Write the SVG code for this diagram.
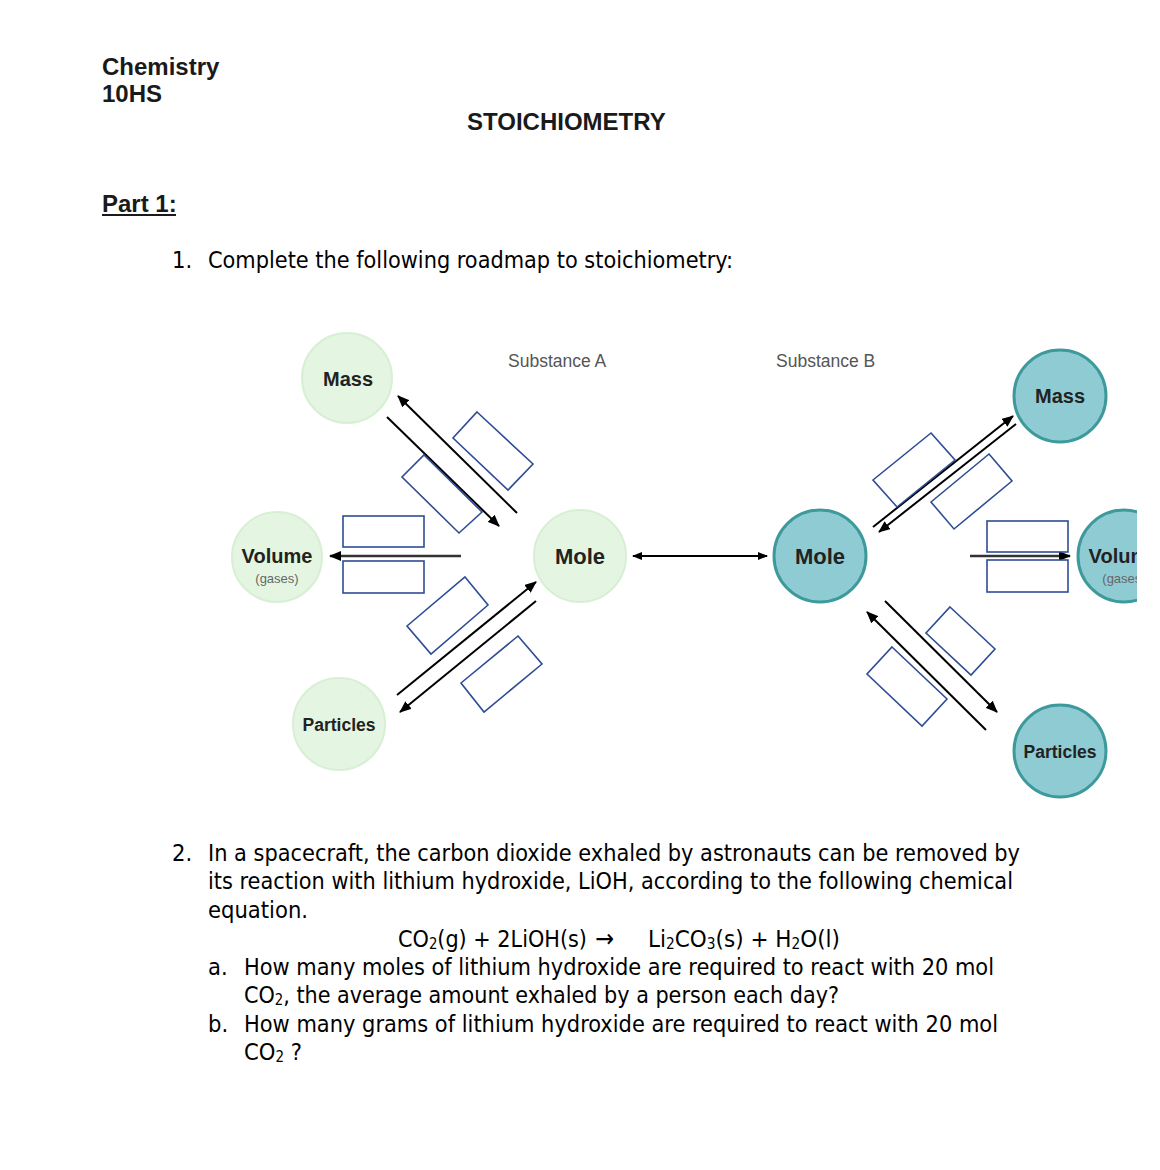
<svg xmlns="http://www.w3.org/2000/svg" width="1160" height="1170" viewBox="0 0 1160 1170">
<defs>
<style>
.hdr{font-family:"Liberation Sans",Arial,sans-serif;font-weight:bold;font-size:24px;fill:#1a1a1a}
.doc{font-family:"DejaVu Sans Condensed","DejaVu Sans",sans-serif;font-size:23.5px;fill:#000}
.s{font-size:15px}
.lbl{font-family:"Liberation Sans",Arial,sans-serif;font-weight:bold;font-size:20px;fill:#222;text-anchor:middle}
.gas{font-family:"Liberation Sans",Arial,sans-serif;font-size:13px;fill:#666;text-anchor:middle}
.subst{font-family:"Liberation Sans",Arial,sans-serif;font-size:17.5px;fill:#555}
.ga{fill:#e4f6e1;stroke:#d7f0d4;stroke-width:2}
.tb{fill:#8fcbd3;stroke:#3d9a9c;stroke-width:3}
.box{fill:#fff;stroke:#2e4d94;stroke-width:1.6}
.arr{fill:none;stroke:#000;stroke-width:2;marker-end:url(#ah)}
.arr2{fill:none;stroke:#000;stroke-width:2;marker-start:url(#ah2);marker-end:url(#ah2)}
</style>
<marker id="ah" viewBox="0 0 12 10" refX="11" refY="5" markerWidth="12" markerHeight="10" markerUnits="userSpaceOnUse" orient="auto">
<path d="M0,0 L12,5 L0,10 z" fill="#000"/>
</marker>
<marker id="ah2" viewBox="0 0 10 8" refX="9" refY="4" markerWidth="10" markerHeight="8" markerUnits="userSpaceOnUse" orient="auto-start-reverse">
<path d="M0,0 L10,4 L0,8 z" fill="#000"/>
</marker>
<clipPath id="cut"><rect x="0" y="0" width="1137" height="1170"/></clipPath>
</defs>
<rect x="0" y="0" width="1160" height="1170" fill="#fff"/>

<g id="header">
<text class="hdr" x="102" y="75">Chemistry</text>
<text class="hdr" x="102" y="102">10HS</text>
<text class="hdr" x="467" y="130">STOICHIOMETRY</text>
<text class="hdr" x="102" y="212">Part 1:</text>
<line x1="102" y1="215" x2="176" y2="215" stroke="#1a1a1a" stroke-width="2"/>
</g>

<g id="q1">
<text class="doc" x="172" y="268">1.</text>
<text class="doc" x="208" y="268" textLength="525" lengthAdjust="spacingAndGlyphs">Complete the following roadmap to stoichiometry:</text>
</g>

<g id="labels">
<text class="subst" x="508" y="367">Substance A</text>
<text class="subst" x="776" y="367">Substance B</text>
</g>

<g id="connectors">
<line class="arr" x1="517" y1="513" x2="398" y2="396"/>
<line class="arr" x1="387" y1="417" x2="499" y2="526"/>
<line class="arr" x1="461" y1="556" x2="330" y2="556" style="stroke-width:2.5;stroke:#333"/>
<line class="arr" x1="397" y1="695" x2="536" y2="582"/>
<line class="arr" x1="536" y1="601" x2="400" y2="712"/>
<line class="arr2" x1="633" y1="556" x2="767" y2="556"/>
<line class="arr" x1="873" y1="527" x2="1013" y2="416"/>
<line class="arr" x1="1016" y1="424" x2="879" y2="532"/>
<line class="arr" x1="970" y1="556" x2="1070" y2="556" style="stroke-width:2.5;stroke:#333"/>
<line class="arr" x1="885" y1="601" x2="997" y2="712"/>
<line class="arr" x1="986" y1="730" x2="867" y2="612"/>
</g>

<g id="boxes">
<polygon class="box" points="477,412 533,464 508,490 453,438"/>
<polygon class="box" points="424,455 482,512 459,533 402,477"/>
<rect class="box" x="343" y="516" width="81" height="31"/>
<rect class="box" x="343" y="561" width="81" height="32"/>
<polygon class="box" points="465,577 488,605 431,654 407,626"/>
<polygon class="box" points="518,636 542,664 484,712 461,683"/>
<polygon class="box" points="931,433 955,460 897,507 873,480"/>
<polygon class="box" points="989,454 1012,481 954,529 931,502"/>
<rect class="box" x="987" y="521" width="81" height="31"/>
<rect class="box" x="987" y="560" width="81" height="32"/>
<polygon class="box" points="950,607 995,649 971,675 926,633"/>
<polygon class="box" points="892,647 947,699 922,726 867,674"/>
</g>

<g id="mass-a"><circle class="ga" cx="347" cy="378" r="45"/><text class="lbl" x="348" y="386">Mass</text></g>
<g id="volume-a"><circle class="ga" cx="277" cy="557" r="45"/><text class="lbl" x="277" y="563">Volume</text><text class="gas" x="277" y="583">(gases)</text></g>
<g id="particles-a"><circle class="ga" cx="339" cy="724" r="46"/><text class="lbl" x="339" y="731" style="font-size:17.5px">Particles</text></g>
<g id="mole-a"><circle class="ga" cx="580" cy="556" r="46"/><text class="lbl" x="580" y="564" style="font-size:22px">Mole</text></g>

<g id="mole-b"><circle class="tb" cx="820" cy="556" r="46"/><text class="lbl" x="820" y="564" style="font-size:22px">Mole</text></g>
<g id="mass-b"><circle class="tb" cx="1060" cy="396" r="46"/><text class="lbl" x="1060" y="403">Mass</text></g>
<g id="volume-b" clip-path="url(#cut)"><circle class="tb" cx="1124" cy="556" r="46"/><text class="lbl" x="1124" y="563">Volume</text><text class="gas" x="1124" y="583">(gases)</text></g>
<g id="particles-b"><circle class="tb" cx="1060" cy="751" r="46"/><text class="lbl" x="1060" y="758" style="font-size:17.5px">Particles</text></g>

<g id="q2">
<text class="doc" x="172" y="861">2.</text>
<text class="doc" x="208" y="861" textLength="812" lengthAdjust="spacingAndGlyphs">In a spacecraft, the carbon dioxide exhaled by astronauts can be removed by</text>
<text class="doc" x="208" y="889" textLength="805" lengthAdjust="spacingAndGlyphs">its reaction with lithium hydroxide, LiOH, according to the following chemical</text>
<text class="doc" x="208" y="918">equation.</text>

<text class="doc" x="398" y="947" textLength="189" lengthAdjust="spacingAndGlyphs">CO<tspan class="s" dy="2">2</tspan><tspan dy="-2">(g) + 2LiOH(s)</tspan></text>
<text class="doc" x="595" y="947" style="font-size:25px">→</text>
<text class="doc" x="648" y="947" textLength="192" lengthAdjust="spacingAndGlyphs">Li<tspan class="s" dy="2">2</tspan><tspan dy="-2">CO</tspan><tspan class="s" dy="2">3</tspan><tspan dy="-2">(s) + H</tspan><tspan class="s" dy="2">2</tspan><tspan dy="-2">O(l)</tspan></text>

<text class="doc" x="208" y="975">a.</text>
<text class="doc" x="244" y="975" textLength="750" lengthAdjust="spacingAndGlyphs">How many moles of lithium hydroxide are required to react with 20 mol</text>
<text class="doc" x="244" y="1003" textLength="595" lengthAdjust="spacingAndGlyphs">CO<tspan class="s" dy="2">2</tspan><tspan dy="-2">, the average amount exhaled by a person each day?</tspan></text>

<text class="doc" x="208" y="1032">b.</text>
<text class="doc" x="244" y="1032" textLength="754" lengthAdjust="spacingAndGlyphs">How many grams of lithium hydroxide are required to react with 20 mol</text>
<text class="doc" x="244" y="1060">CO<tspan class="s" dy="2">2</tspan><tspan dy="-2"> ?</tspan></text>
</g>
</svg>
